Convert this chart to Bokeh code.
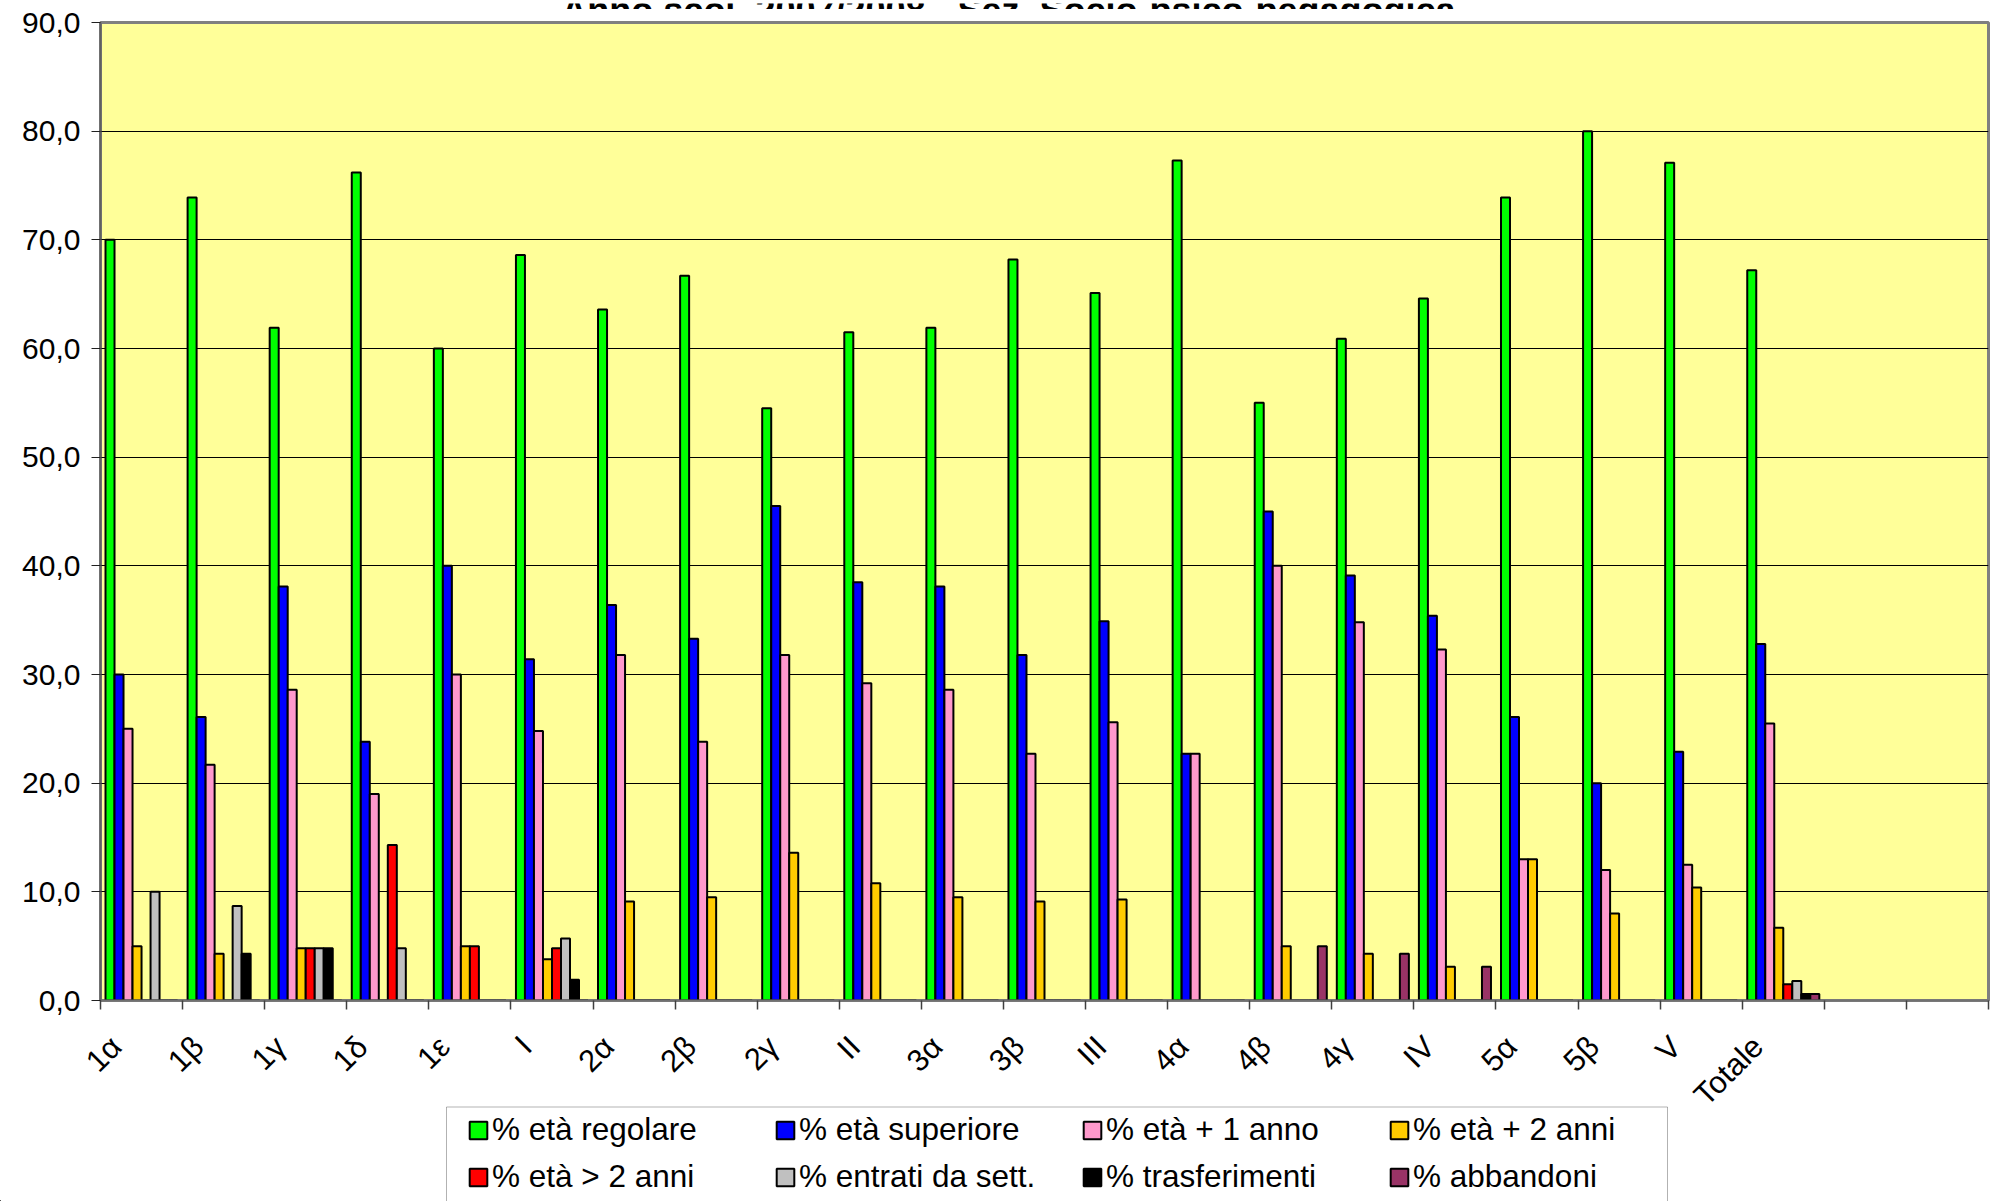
import math
import numpy as np
from bokeh.plotting import figure
from bokeh.layouts import column
from bokeh.models import (Range1d, FixedTicker, Legend, LegendItem, Label,
                          ColumnDataSource, BoxAnnotation)
from bokeh.embed import file_html
from bokeh.resources import INLINE

# ---------------- data ----------------
categories = ["1α", "1β", "1γ", "1δ", "1ε", "I", "2α", "2β", "2γ", "II",
              "3α", "3β", "III", "4α", "4β", "4γ", "IV", "5α", "5β", "V", "Totale"]
n_slots = 23  # two empty category slots at the end of the axis

series_names = ["% età regolare", "% età superiore", "% età + 1 anno", "% età + 2 anni",
                "% età > 2 anni", "% entrati da sett.", "% trasferimenti", "% abbandoni"]

eta_regolare = [70.0, 73.9, 61.9, 76.2, 60.0, 68.6, 63.6, 66.7, 54.5, 61.5,
                61.9, 68.2, 65.1, 77.3, 55.0, 60.9, 64.6, 73.9, 80.0, 77.1, 67.2]
eta_superiore = [30.0, 26.1, 38.1, 23.8, 40.0, 31.4, 36.4, 33.3, 45.5, 38.5,
                 38.1, 31.8, 34.9, 22.7, 45.0, 39.1, 35.4, 26.1, 20.0, 22.9, 32.8]
eta_piu_1 = [25.0, 21.7, 28.6, 19.0, 30.0, 24.8, 31.8, 23.8, 31.8, 29.2,
             28.6, 22.7, 25.6, 22.7, 40.0, 34.8, 32.3, 13.0, 12.0, 12.5, 25.5]
eta_piu_2 = [5.0, 4.3, 4.8, 0.0, 5.0, 3.8, 9.1, 9.5, 13.6, 10.8,
             9.5, 9.1, 9.3, 0.0, 5.0, 4.3, 3.1, 13.0, 8.0, 10.4, 6.7]
eta_oltre_2 = [0.0, 0.0, 4.8, 14.3, 5.0, 4.8, 0.0, 0.0, 0.0, 0.0,
               0.0, 0.0, 0.0, 0.0, 0.0, 0.0, 0.0, 0.0, 0.0, 0.0, 1.5]
entrati_sett = [10.0, 8.7, 4.8, 4.8, 0.0, 5.7, 0.0, 0.0, 0.0, 0.0,
                0.0, 0.0, 0.0, 0.0, 0.0, 0.0, 0.0, 0.0, 0.0, 0.0, 1.8]
trasferimenti = [0.0, 4.3, 4.8, 0.0, 0.0, 1.9, 0.0, 0.0, 0.0, 0.0,
                 0.0, 0.0, 0.0, 0.0, 0.0, 0.0, 0.0, 0.0, 0.0, 0.0, 0.6]
abbandoni = [0.0, 0.0, 0.0, 0.0, 0.0, 0.0, 0.0, 0.0, 0.0, 0.0,
             0.0, 0.0, 0.0, 0.0, 5.0, 4.3, 3.1, 0.0, 0.0, 0.0, 0.6]

series_values = [eta_regolare, eta_superiore, eta_piu_1, eta_piu_2,
                 eta_oltre_2, entrati_sett, trasferimenti, abbandoni]
series_colors = ["#00FF00", "#0000FF", "#FF99CC", "#FFCC00",
                 "#FF0000", "#C0C0C0", "#000000", "#993366"]

y_ticks = [0, 10, 20, 30, 40, 50, 60, 70, 80, 90]
y_tick_labels = ["0,0", "10,0", "20,0", "30,0", "40,0", "50,0", "60,0", "70,0", "80,0", "90,0"]

title_text = "Anno scol. 2007/2008 - Sez. Socio-psico-pedagogica"

# ---------------- layout constants (pixels) ----------------
FONT = "Liberation Sans"
W, H = 2000, 1201
FRAME_L, FRAME_R, FRAME_T, FRAME_B = 100, 1988, 22, 1000
TOP_H = 9             # strip holding the (cut) title
MAIN_BOTTOM = 1019    # main figure ends just under the tick marks / "0,0" label
ppc = (FRAME_R - FRAME_L) / n_slots     # pixels per category
x_lo, x_hi = -0.5, n_slots - 0.5


def px_to_cat(px):
    return x_lo + (px - FRAME_L) / ppc


# ---------------- title strip ----------------
p0 = figure(width=W, height=TOP_H, output_backend="svg", toolbar_location=None,
            x_range=Range1d(0, W), y_range=Range1d(TOP_H, 0),
            x_axis_location=None, y_axis_location=None, min_border=0)
p0.frame_align = False
p0.outline_line_color = None
p0.background_fill_color = "white"
p0.border_fill_color = "white"
p0.grid.visible = False
p0.add_layout(Label(x=1008, y=7, text=title_text, text_font=FONT, text_font_style="bold",
                    text_font_size="36px", text_align="center", text_baseline="alphabetic",
                    text_color="black"))

# ---------------- main chart ----------------
p = figure(width=W, height=MAIN_BOTTOM - TOP_H, output_backend="svg", toolbar_location=None,
           x_range=Range1d(x_lo, x_hi), y_range=Range1d(0, 90),
           min_border_left=FRAME_L, min_border_right=W - FRAME_R,
           min_border_top=FRAME_T - TOP_H, min_border_bottom=MAIN_BOTTOM - FRAME_B)
p.background_fill_color = "#FFFF99"
p.border_fill_color = "white"
p.outline_line_color = "#808080"
p.outline_line_width = 3

group_width = 0.878
bar_w = group_width / len(series_names)
idx = np.arange(len(categories))

for k, (name, vals, col) in enumerate(zip(series_names, series_values, series_colors)):
    src = ColumnDataSource(dict(x=idx + (k - 3.5) * bar_w, top=vals))
    p.vbar(x="x", top="top", width=bar_w, bottom=0, source=src,
           fill_color=col, line_color="black", line_width=2)

# x axis: tick marks between categories (labels are drawn in the strip below)
p.xaxis.ticker = FixedTicker(ticks=[], minor_ticks=[i - 0.5 for i in range(n_slots + 1)])
p.xaxis.major_tick_out = 9
p.xaxis.major_tick_in = 0
p.xaxis.major_label_standoff = 0
p.xaxis.minor_tick_out = 9
p.xaxis.minor_tick_in = 0
p.xaxis.minor_tick_line_color = "#404040"
p.xaxis.minor_tick_line_width = 1.5
p.xaxis.axis_line_color = "#707070"
p.xaxis.axis_line_width = 2
p.xgrid.visible = False

# y axis
p.yaxis.ticker = FixedTicker(ticks=y_ticks, minor_ticks=[])
p.yaxis.major_label_overrides = dict(zip(y_ticks, y_tick_labels))
p.yaxis.major_label_text_font = FONT
p.yaxis.major_label_text_font_size = "30px"
p.yaxis.major_label_text_color = "black"
p.yaxis.major_label_standoff = 11
p.yaxis.major_tick_out = 9
p.yaxis.major_tick_in = 0
p.yaxis.major_tick_line_color = "#202020"
p.yaxis.minor_tick_line_color = None
p.yaxis.axis_line_color = "#606060"
p.yaxis.axis_line_width = 2
p.ygrid.ticker = FixedTicker(ticks=y_ticks)
p.ygrid.grid_line_color = "black"
p.ygrid.grid_line_width = 1

# ---------------- category labels + legend strip ----------------
p2 = figure(width=W, height=H - MAIN_BOTTOM, output_backend="svg", toolbar_location=None,
            x_range=Range1d(px_to_cat(0), px_to_cat(W)), y_range=Range1d(H, MAIN_BOTTOM),
            x_axis_location=None, y_axis_location=None, min_border=0)
p2.frame_align = False
p2.outline_line_color = None
p2.background_fill_color = "white"
p2.border_fill_color = "white"
p2.grid.visible = False

label_shift = 0.31
for i, c in enumerate(categories):
    p2.add_layout(Label(x=i - label_shift, y=1041, text=c, angle=math.pi / 4,
                        text_align="right", text_baseline="middle",
                        text_font=FONT, text_font_size="31px", text_color="black"))

items = []
for name, col in zip(series_names, series_colors):
    r = p2.vbar(x=[px_to_cat(-500)], top=[H], bottom=[H], width=0.1,
                fill_color=col, line_color="black", line_width=2)
    items.append(LegendItem(label=name, renderers=[r]))

p2.add_layout(BoxAnnotation(left=px_to_cat(446), right=px_to_cat(1667), top=1106.5, bottom=1230,
                            fill_alpha=0, line_color="black", line_width=1))

legend = Legend(items=items, location=(467, 6), orientation="horizontal", ncols=4,
                label_text_font=FONT, label_text_font_size="31.5px", label_text_color="black",
                glyph_width=22, glyph_height=22, label_standoff=3,
                label_width=272, label_height=36, spacing=10, padding=0, margin=0,
                border_line_color=None, background_fill_alpha=0)
p2.add_layout(legend, "center")

layout = column(p0, p, p2, spacing=0)
open("out.html", "w").write(file_html(layout, INLINE))
